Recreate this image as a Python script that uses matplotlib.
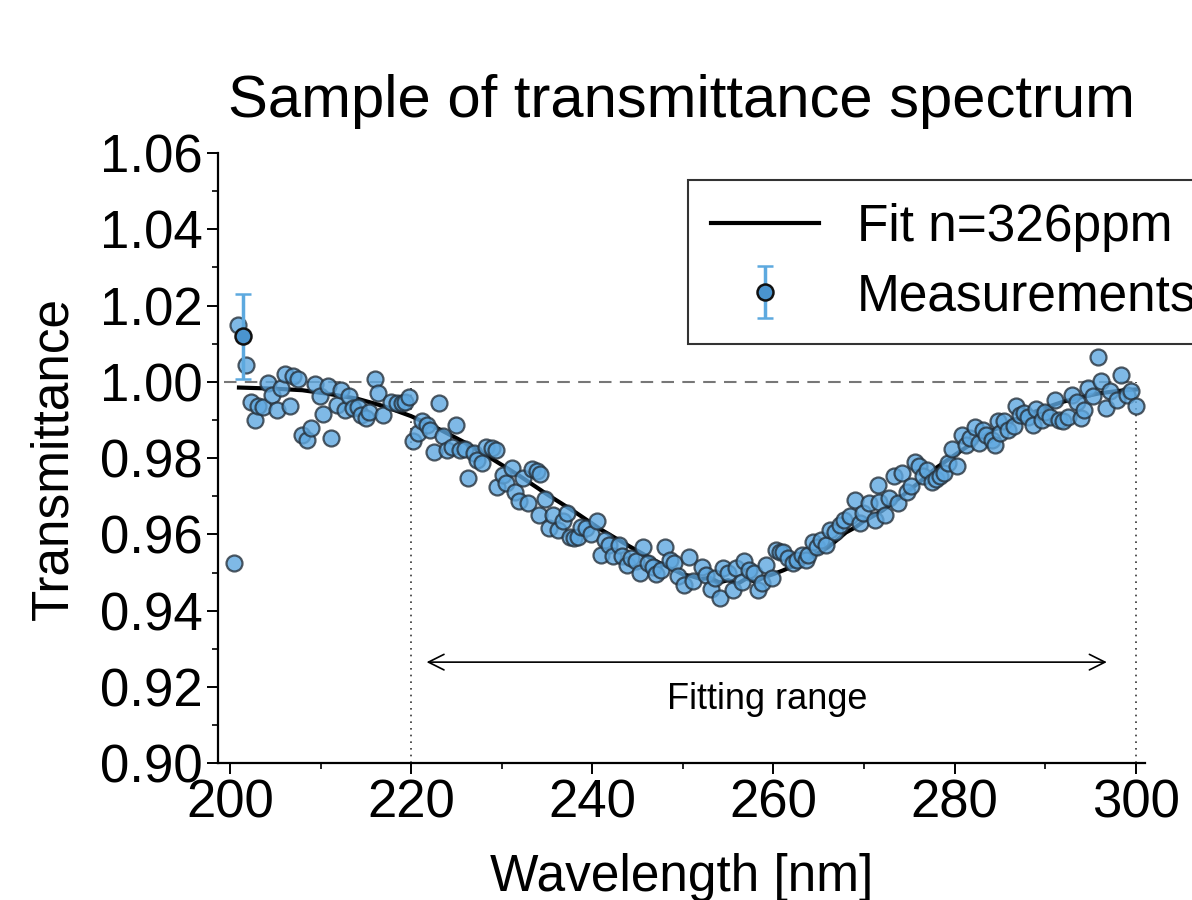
import numpy as np
import matplotlib.pyplot as plt

plt.rcParams['font.family'] = ['Liberation Sans', 'DejaVu Sans']

# measured points (wavelength nm, transmittance)
wl = [200.4, 200.9, 201.8, 202.3, 202.8, 203.1, 203.7, 204.2, 204.6, 205.2,
      205.6, 206.1, 206.6, 207.0, 207.5, 208.0, 208.5, 208.9, 209.4, 209.9,
      210.3, 210.8, 211.2, 211.8, 212.3, 212.7, 213.2, 213.6, 214.1, 214.5,
      215.0, 215.4, 216.0, 216.4, 216.9, 217.8, 218.4, 219.0, 219.3, 219.8,
      220.2, 220.8, 221.2, 221.7, 222.1, 222.5, 223.1, 223.5, 224.0, 224.5,
      225.0, 225.4, 225.9, 226.3, 226.9, 227.3, 227.8, 228.3, 228.9, 229.4,
      229.5, 230.1, 230.5, 231.1, 231.5, 231.9, 232.4, 232.9, 233.3, 233.9,
      234.1, 234.2, 234.8, 235.2, 235.7, 236.2, 236.8, 237.2, 237.5, 238.0,
      238.4, 238.8, 239.3, 239.9, 240.5, 241.0, 241.4, 241.8, 242.3, 242.9,
      243.3, 243.8, 244.3, 244.8, 245.3, 245.6, 246.2, 246.7, 247.0, 247.6,
      248.0, 248.6, 249.0, 249.5, 250.1, 250.7, 251.1, 252.1, 252.6, 253.1,
      253.5, 254.1, 254.4, 255.0, 255.5, 255.9, 256.5, 256.8, 257.3, 257.8,
      258.3, 258.7, 259.2, 259.8, 260.3, 260.7, 261.1, 261.6, 262.2, 262.6,
      263.1, 263.6, 263.8, 264.4, 264.8, 265.3, 265.8, 266.2, 266.8, 267.3,
      267.8, 268.4, 269.0, 269.5, 269.9, 270.5, 271.2, 271.5, 271.7, 272.3,
      272.8, 273.3, 273.8, 274.2, 274.7, 275.2, 275.6, 276.1, 276.5, 277.0,
      277.5, 277.9, 278.4, 278.8, 279.3, 279.7, 280.3, 280.8, 281.2, 281.7,
      282.2, 282.7, 283.1, 283.5, 284.1, 284.4, 284.8, 285.0, 285.5, 285.9,
      286.5, 286.8, 287.2, 287.7, 288.1, 288.7, 289.0, 289.6, 290.0, 290.5,
      291.1, 291.5, 292.0, 292.5, 292.9, 293.5, 294.0, 294.3, 294.7, 295.3,
      295.8, 296.1, 296.7, 297.2, 297.9, 298.4, 299.0, 299.5, 300.0]
tr = [0.9525, 1.0150, 1.0045, 0.9948, 0.9900, 0.9937, 0.9935, 0.9997, 0.9966, 0.9927,
      0.9983, 1.0021, 0.9937, 1.0014, 1.0007, 0.9861, 0.9848, 0.9878, 0.9994, 0.9963,
      0.9916, 0.9990, 0.9854, 0.9940, 0.9979, 0.9925, 0.9963, 0.9931, 0.9933, 0.9913,
      0.9906, 0.9920, 1.0007, 0.9972, 0.9913, 0.9948, 0.9944, 0.9944, 0.9948, 0.9961,
      0.9846, 0.9865, 0.9896, 0.9887, 0.9874, 0.9817, 0.9944, 0.9858, 0.9822, 0.9830,
      0.9887, 0.9822, 0.9823, 0.9747, 0.9813, 0.9795, 0.9787, 0.9830, 0.9826, 0.9822,
      0.9725, 0.9756, 0.9734, 0.9774, 0.9712, 0.9688, 0.9747, 0.9683, 0.9771, 0.9765,
      0.9651, 0.9759, 0.9692, 0.9616, 0.9651, 0.9612, 0.9634, 0.9656, 0.9594, 0.9590,
      0.9593, 0.9619, 0.9616, 0.9601, 0.9636, 0.9546, 0.9586, 0.9572, 0.9542, 0.9572,
      0.9542, 0.9520, 0.9537, 0.9529, 0.9498, 0.9566, 0.9524, 0.9515, 0.9496, 0.9507,
      0.9566, 0.9533, 0.9526, 0.9491, 0.9467, 0.9540, 0.9479, 0.9515, 0.9494, 0.9456,
      0.9485, 0.9433, 0.9511, 0.9498, 0.9454, 0.9511, 0.9476, 0.9529, 0.9507, 0.9498,
      0.9454, 0.9472, 0.9520, 0.9485, 0.9559, 0.9555, 0.9555, 0.9537, 0.9524, 0.9533,
      0.9546, 0.9533, 0.9546, 0.9581, 0.9568, 0.9586, 0.9572, 0.9612, 0.9607, 0.9625,
      0.9638, 0.9647, 0.9690, 0.9629, 0.9656, 0.9682, 0.9638, 0.9730, 0.9686, 0.9651,
      0.9695, 0.9753, 0.9682, 0.9762, 0.9712, 0.9727, 0.9791, 0.9780, 0.9752, 0.9769,
      0.9738, 0.9744, 0.9752, 0.9762, 0.9787, 0.9823, 0.9778, 0.9861, 0.9835, 0.9852,
      0.9881, 0.9839, 0.9874, 0.9861, 0.9848, 0.9835, 0.9896, 0.9865, 0.9896, 0.9874,
      0.9883, 0.9937, 0.9913, 0.9918, 0.9909, 0.9887, 0.9928, 0.9900, 0.9922, 0.9907,
      0.9953, 0.9900, 0.9896, 0.9907, 0.9966, 0.9948, 0.9905, 0.9927, 0.9983, 0.9963,
      1.0065, 1.0003, 0.9931, 0.9975, 0.9953, 1.0018, 0.9966, 0.9975, 0.9937]

# highlighted point with its error bar
hl_wl = 201.4
hl_tr = 1.0119
hl_err = 0.0112

# fitted curve
fit_wl = [201, 205, 208, 211, 214, 217, 220, 223, 226, 229, 232, 235, 238, 241,
          244, 247, 249, 250, 251, 252, 253, 254, 255, 256, 257, 258, 259, 260,
          261, 262, 263, 264, 265, 266, 267, 268, 269, 270, 271, 272, 274, 276,
          278, 280, 282, 284, 286, 288, 290, 292, 294, 296, 298, 300]
fit_tr = [0.9985, 0.9982, 0.9978, 0.9968, 0.9956, 0.9936, 0.9910, 0.9877, 0.9840,
          0.9797, 0.9753, 0.9705, 0.9660, 0.9612, 0.9570, 0.9530, 0.9507, 0.9495,
          0.9490, 0.9483, 0.9486, 0.9474, 0.9480, 0.9470, 0.9484, 0.9476, 0.9488,
          0.9496, 0.9505, 0.9515, 0.9520, 0.9538, 0.9552, 0.9566, 0.9585, 0.9605,
          0.9618, 0.9635, 0.9648, 0.9662, 0.9697, 0.9735, 0.9775, 0.9808, 0.9840,
          0.9870, 0.9895, 0.9914, 0.9932, 0.9948, 0.9960, 0.9970, 0.9976, 0.9980]

range_lo, range_hi = 220, 300

fig = plt.figure(figsize=(11.92, 9), dpi=100)
ax = fig.add_axes([0.183, 0.152, 0.7775, 0.678])

ax.hlines(1.0, 199.3, 300, colors='#777777', linestyles=(0, (6, 4)), lw=1.5, zorder=1)
ax.vlines([range_lo, range_hi], 0.90, 1.0, colors='#333333', linestyles=(0, (1, 3)), lw=1.2, zorder=1)

ln, = ax.plot(fit_wl, fit_tr, color='black', lw=3.0, zorder=3, label='Fit n=326ppm')
ax.plot(wl, tr, 'o', ms=11.5, mfc='#5fa8e0', mec='#26313b', mew=1.6, alpha=0.8, zorder=4)
eb = ax.errorbar(hl_wl, hl_tr, yerr=hl_err, fmt='o', ms=11.5, mfc='#4a94cf', mec='#111111',
                 mew=1.8, ecolor='#5da9df', elinewidth=2.5, capsize=6, capthick=2.5,
                 zorder=5, label='Measurements')

ax.annotate('', xy=(221.4, 0.9265), xytext=(297.1, 0.9265),
            arrowprops=dict(arrowstyle='<->', color='black', lw=1.2,
                            mutation_scale=28))
ax.text(259.3, 0.9166, 'Fitting range', ha='center', va='center', fontsize=26)

ax.set_xlim(198.7, 301.0)
ax.set_ylim(0.90, 1.06)
ax.set_xticks(np.arange(200, 301, 20))
ax.set_xticks(np.arange(200, 301, 10), minor=True)
ax.set_yticks(np.arange(0.90, 1.061, 0.02))
ax.set_yticks(np.arange(0.90, 1.061, 0.01), minor=True)
ax.yaxis.set_major_formatter(plt.FormatStrFormatter('%.2f'))
ax.tick_params(which='major', direction='out', length=8, width=1.4, labelsize=38, pad=3)
ax.tick_params(which='minor', direction='out', length=4.5, width=1.2)
for s in ['top', 'right']:
    ax.spines[s].set_visible(False)
for s in ['left', 'bottom']:
    ax.spines[s].set_linewidth(1.6)

ax.set_xlabel('Wavelength [nm]', fontsize=37, labelpad=18)
ax.set_ylabel('Transmittance', fontsize=37, labelpad=16)
ax.set_title('Sample of transmittance spectrum', fontsize=43, pad=26)

leg = ax.legend(handles=[ln, eb], loc='upper left', bbox_to_anchor=(688 / 1192, 1 - 180 / 900),
                bbox_transform=fig.transFigure, fontsize=37, frameon=True, fancybox=False,
                edgecolor='black', handlelength=2.1, handletextpad=0.75, borderpad=0.44,
                labelspacing=0.4, borderaxespad=0)
leg.get_frame().set_linewidth(1.5)

fig.savefig('out.png', dpi=100)
